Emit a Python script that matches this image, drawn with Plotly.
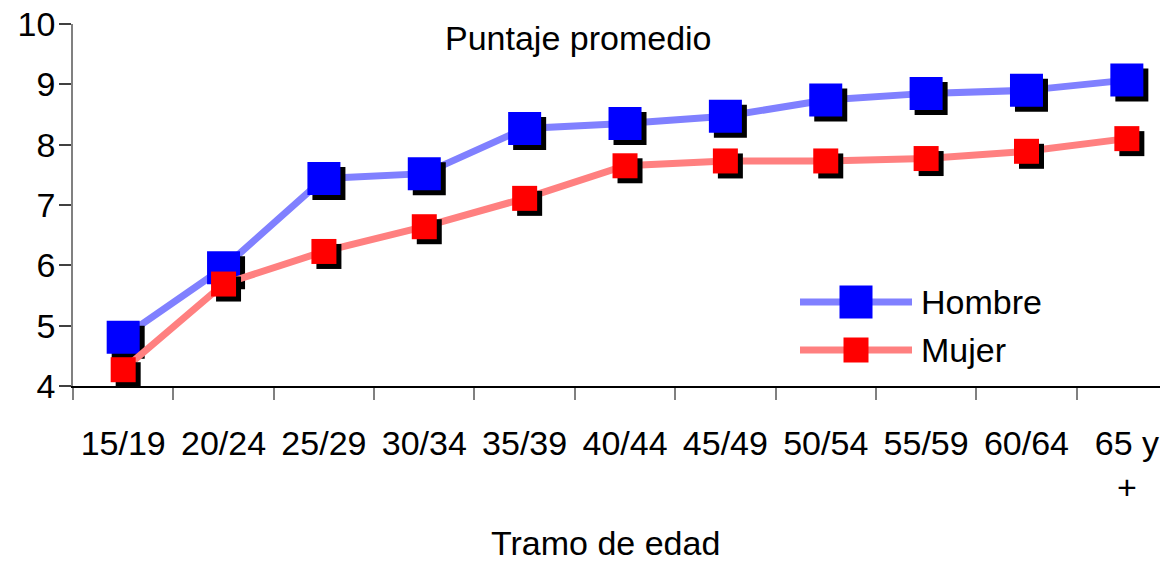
import plotly.graph_objects as go

categories = ["15/19", "20/24", "25/29", "30/34", "35/39", "40/44", "45/49",
              "50/54", "55/59", "60/64", "65 y<br>+"]
hombre = [4.81, 5.96, 7.44, 7.52, 8.27, 8.35, 8.47, 8.74, 8.85, 8.90, 9.07]
mujer = [4.27, 5.69, 6.23, 6.64, 7.11, 7.65, 7.73, 7.73, 7.77, 7.89, 8.10]
y_ticks = [4, 5, 6, 7, 8, 9, 10]

FONT = "Liberation Sans, Arial, sans-serif"
FS = 34
OFF = 8  # default page body margin
W, H = 1168 - OFF, 564 - OFF
PL, PT, PB, PR = 73, 24, 386, 1168  # plot area in window pixels
L, T = PL - OFF, PT - OFF
B = H - (PB - OFF)
R = 0
PW, PH = W - L - R, H - T - B
XR = [-0.5, 10.41]
YR = [4, 10]
dx = (XR[1] - XR[0]) / PW * 5
dy = (YR[1] - YR[0]) / PH * 5

idx = list(range(len(categories)))
fig = go.Figure()
series = [
    ("Hombre", hombre, "#8080FF", "#0000FF", 33),
    ("Mujer", mujer, "#FF8080", "#FF0000", 25),
]
for name, vals, lc, mc, ms in series:
    fig.add_trace(go.Scatter(x=idx, y=vals, mode="lines", line=dict(color=lc, width=7),
                             showlegend=False, hoverinfo="skip", cliponaxis=False))
    fig.add_trace(go.Scatter(x=[i + dx for i in idx], y=[v - dy for v in vals], mode="markers",
                             marker=dict(symbol="square", size=ms, color="black", line=dict(width=0)),
                             showlegend=False, hoverinfo="skip", cliponaxis=False))
    fig.add_trace(go.Scatter(x=idx, y=vals, mode="markers", name=name,
                             marker=dict(symbol="square", size=ms, color=mc, line=dict(width=0)),
                             showlegend=False, cliponaxis=False))

def px(x):
    return (x - PL) / PW
def py(y):
    return (PB - y) / PH

shapes = []
annotations = []
legend_items = [("Hombre", "#8080FF", "#0000FF", 33, 302), ("Mujer", "#FF8080", "#FF0000", 25, 350)]
for name, lc, mc, ms, yc in legend_items:
    shapes.append(dict(type="line", xref="paper", yref="paper", x0=px(800), x1=px(912),
                       y0=py(yc), y1=py(yc), line=dict(color=lc, width=7)))
    shapes.append(dict(type="rect", xref="paper", yref="paper", x0=px(856 - ms / 2), x1=px(856 + ms / 2),
                       y0=py(yc - ms / 2), y1=py(yc + ms / 2), fillcolor=mc, line=dict(width=0)))
    annotations.append(dict(text=name, xref="paper", yref="paper", x=px(919), y=py(yc),
                            xanchor="left", yanchor="middle", showarrow=False,
                            font=dict(family=FONT, size=FS, color="black")))

annotations.append(dict(text="Puntaje promedio", xref="paper", yref="paper", x=px(578), y=py(38),
                        xanchor="center", yanchor="middle", showarrow=False,
                        font=dict(family=FONT, size=FS, color="black")))
annotations.append(dict(text="Tramo de edad", xref="paper", yref="paper", x=px(605), y=py(543),
                        xanchor="center", yanchor="middle", showarrow=False,
                        font=dict(family=FONT, size=FS, color="black")))

fig.update_layout(
    width=W, height=H,
    margin=dict(l=L, r=R, t=T, b=B, pad=0, autoexpand=False),
    paper_bgcolor="white", plot_bgcolor="white",
    font=dict(family=FONT, size=FS, color="black"),
    shapes=shapes, annotations=annotations,
    showlegend=False,
)
fig.update_xaxes(
    range=XR, tickmode="array", tickvals=idx, ticktext=categories,
    ticks="", showgrid=False, zeroline=False, automargin=False, tickangle=0,
    showline=True, linecolor="black", linewidth=1.5,
    ticklabelstandoff=26, ticklabeloverflow="allow",
    minor=dict(tick0=-0.5, dtick=1, ticks="outside", ticklen=12, tickcolor="#808080", tickwidth=1.5,
               showgrid=False),
    tickfont=dict(family=FONT, size=FS, color="black"),
)
fig.update_yaxes(
    range=YR, tickmode="array", tickvals=y_ticks,
    ticks="outside", ticklen=12, tickcolor="#404040", tickwidth=1.5,
    showgrid=False, zeroline=False, automargin=False,
    showline=True, linecolor="#808080", linewidth=1.5,
    ticklabelstandoff=-3, ticklabeloverflow="allow",
    tickfont=dict(family=FONT, size=FS, color="black"),
)
fig.write_html("out.html")
